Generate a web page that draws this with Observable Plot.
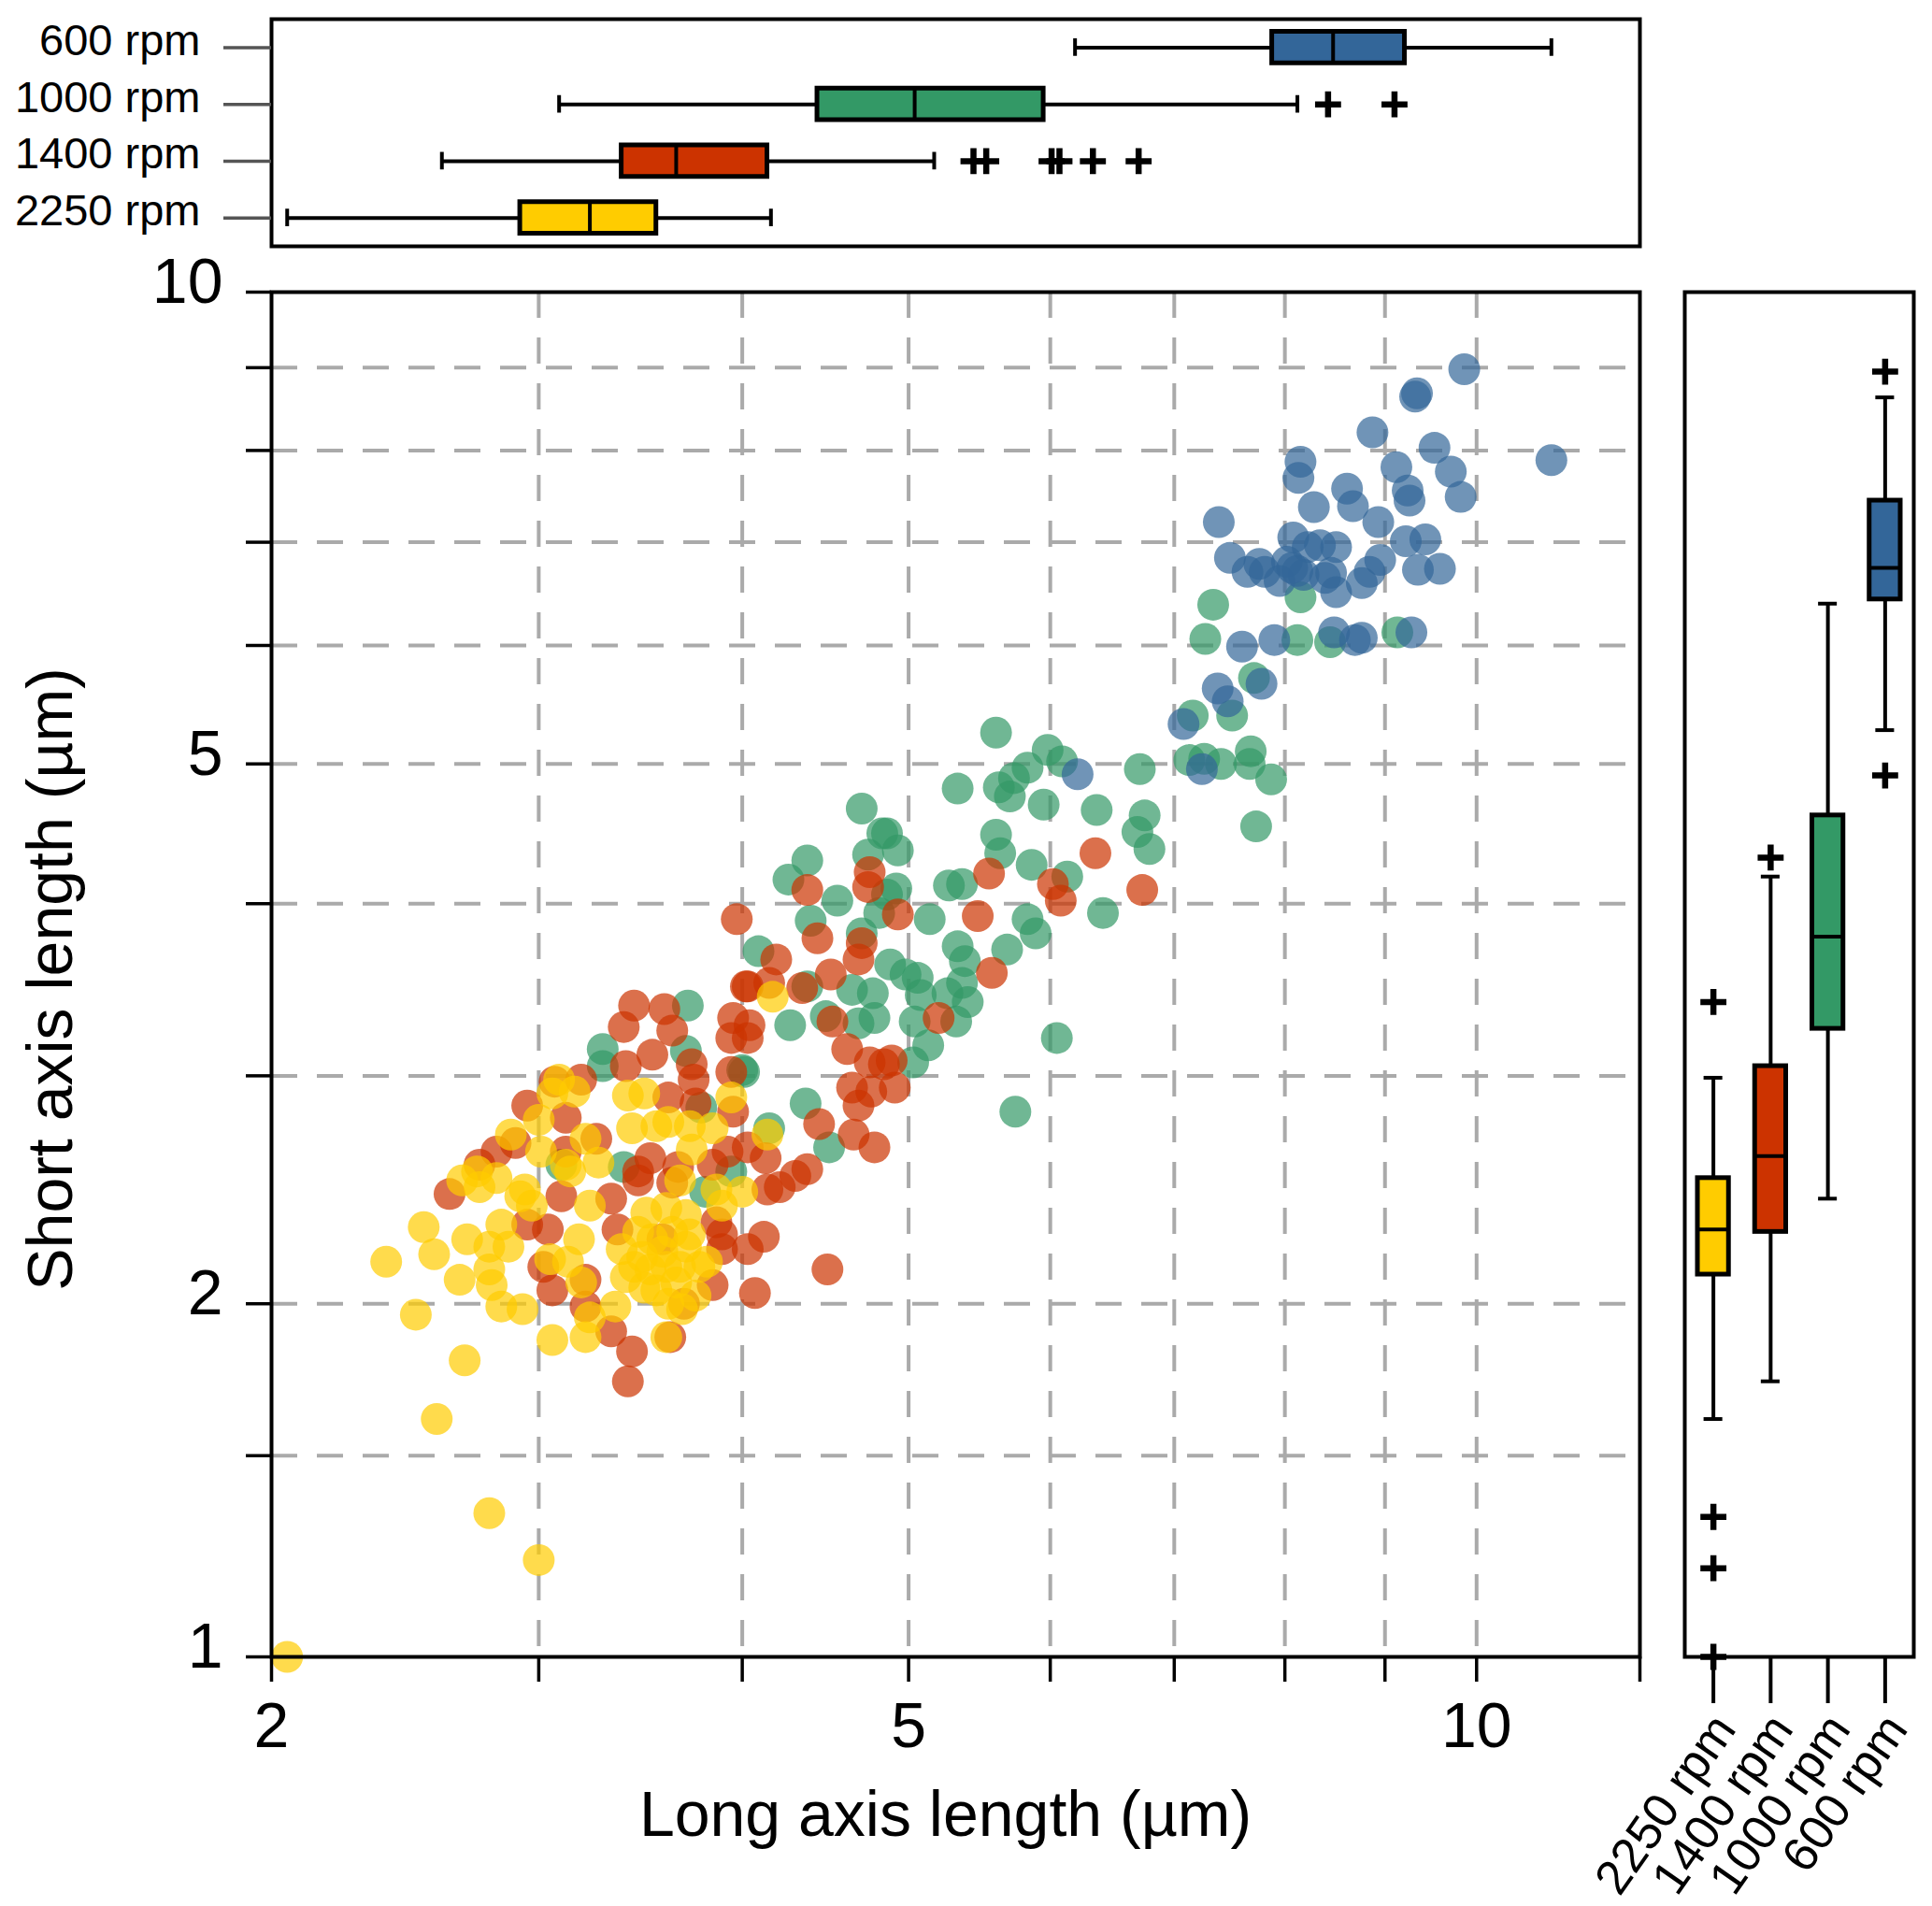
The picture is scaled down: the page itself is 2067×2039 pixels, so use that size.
<!DOCTYPE html>
<html>
<head>
<meta charset="utf-8">
<script src="https://cdn.jsdelivr.net/npm/d3@7"></script>
<script src="https://cdn.jsdelivr.net/npm/@observablehq/plot@0.6"></script>
<style>
  html, body { margin: 0; padding: 0; background: #ffffff; }
  #chart { position: relative; width: 2067px; height: 2039px; background: #ffffff; overflow: hidden; }
  #chart svg { position: absolute; left: 0; top: 0; overflow: visible; background: none !important; max-width: none !important; }
</style>
</head>
<body>
<div id="chart"></div>
<script>
// ---------------- data ----------------
const groups = ["600 rpm", "1000 rpm", "1400 rpm", "2250 rpm"];
const rightOrder = ["2250 rpm", "1400 rpm", "1000 rpm", "600 rpm"];
const colors = ["#336699", "#339966", "#cc3300", "#ffcc00"];

const long600 = [9.86,9.34,9.32,8.87,10.88,9.53,8.15,8.13,9.12,9.71,8.61,9.24,9.26,9.82,8.28,8.67,7.39,8.93,8.08,9.22,9.43,8.34,8.50,8.22,7.49,7.76,7.65,7.81,8.02,8.12,7.95,8.18,8.45,8.39,8.50,8.95,8.84,8.76,9.35,9.59,8.48,8.69,8.76,9.28,7.60,7.90,7.78,7.38,7.47,7.08,7.24,6.21,8.07];
const short600 = [8.98,8.68,8.64,8.21,7.89,8.03,7.87,7.69,7.81,7.76,7.57,7.55,7.44,7.48,7.37,7.38,7.21,7.21,7.05,7.01,7.03,6.97,6.95,6.95,6.84,6.78,6.70,6.70,6.80,6.71,6.61,6.67,6.69,6.64,6.50,6.82,6.70,6.59,6.72,6.73,6.12,6.05,6.07,6.12,5.99,6.05,5.66,5.62,5.51,5.32,4.96,4.92,6.74];

const long1000 = [7.34,8.15,7.27,8.12,8.44,9.13,7.71,7.16,7.51,7.13,7.26,7.41,7.68,7.67,7.87,7.73,
  5.60,5.98,6.09,5.83,5.73,5.62,5.70,5.33,5.95,6.71,6.36,6.75,6.69,6.79,4.70,4.83,4.86,4.93,4.74,5.60,5.63,5.86,6.13,4.37,4.26,4.55,4.92,4.86,4.81,5.27,5.36,5.14,4.39,5.83,5.89,6.41,5.68,5.33,5.38,4.70,4.09,4.88,4.98,5.06,5.36,5.26,5.08,5.40,4.64,4.77,4.37,4.78,4.68,4.27,4.48,5.04,5.32,5.13,5.03,6.05,5.74,4.36,4.01,4.50,4.15,
  3.71,3.29,3.29,3.70,4.00,3.78,3.39,3.10,3.94,3.80];
const short1000 = [6.38,6.45,6.06,6.05,6.03,6.12,5.71,5.39,5.39,5.03,5.04,5.00,5.10,5.00,4.88,4.53,
  5.25,5.11,5.02,4.97,4.89,4.82,4.75,4.81,4.69,4.96,4.65,4.61,4.49,4.37,4.66,4.48,4.48,4.36,4.33,4.47,4.34,4.26,4.18,4.29,4.16,4.02,4.10,4.06,3.94,4.12,4.13,3.90,3.89,3.90,3.81,3.94,3.71,3.73,3.64,3.81,3.70,3.62,3.56,3.54,3.51,3.45,3.44,3.40,3.47,3.45,3.49,3.31,3.28,3.27,3.32,3.29,3.29,3.16,3.07,3.20,2.82,2.86,3.02,2.65,2.74,
  3.38,3.14,3.05,3.13,3.03,2.84,2.56,2.57,2.54,2.45];

const long1400 = [6.35,6.73,5.55,6.02,6.08,5.47,5.57,4.75,4.74,4.37,4.93,3.97,4.43,4.70,4.68,4.19,4.51,4.34,4.02,4.15,5.20,4.52,4.04,4.61,4.75,4.84,4.89,4.64,4.76,4.91,4.68,4.44,4.65,4.78,
  4.13,4.37,4.30,4.21,4.14,4.12,4.49,
  2.63,2.75,2.82,2.90,2.95,3.07,3.19,3.12,3.26,3.12,3.10,3.04,2.95,3.02,3.06,3.21,3.21,3.33,3.43,3.41,3.62,3.69,3.44,3.59,3.39,3.63,3.53,3.40,3.73,3.74,3.61,3.75,3.95,3.94,3.94,4.03,4.03,3.95,3.92,3.84,3.46,3.46,3.52,3.66,3.63,3.33,3.36,3.58,3.89,3.89,4.03,3.84,4.07,4.03,3.86];
const short1400 = [4.34,4.09,4.20,4.13,4.02,3.92,3.57,4.21,4.11,4.09,3.93,3.90,3.78,3.75,3.65,3.65,3.56,3.48,3.49,3.51,3.31,3.29,3.27,3.14,3.07,3.06,3.08,2.94,2.92,2.94,2.85,2.76,2.71,2.65,
  2.60,2.55,2.52,2.47,2.46,2.26,2.13,
  2.44,2.57,2.63,2.67,2.85,2.97,2.98,2.79,2.69,2.63,2.43,2.29,2.31,2.14,2.05,2.09,1.99,1.90,1.83,1.73,1.88,2.00,3.38,3.36,3.26,3.24,3.11,3.05,3.06,2.98,2.89,2.86,3.31,3.20,3.02,3.49,3.20,2.82,2.63,2.57,2.54,2.50,2.60,2.56,2.49,2.42,2.29,2.25,2.27,2.21,2.21,2.07,2.04,2.65,2.32];

const long2250 = [2.39,2.53,2.57,2.67,2.70,2.50,2.69,2.79,2.80,2.79,2.84,2.87,2.84,2.93,3.06,3.21,3.23,2.68,2.75,2.74,2.82,2.88,2.92,2.94,2.97,3.00,3.09,3.06,3.16,3.01,3.12,3.14,3.21,3.27,3.23,3.18,3.05,3.13,3.19,3.41,3.49,3.43,3.55,3.61,3.72,3.84,3.73,3.94,3.67,3.50,3.60,3.70,3.46,3.38,3.72,3.44,3.52,3.60,3.67,3.77,3.49,3.61,3.35,3.60,3.89,4.00,3.86,3.81,4.17,4.14,
  2.58,2.79,3.00,2.05,
  3.55,3.65,3.58,3.70,3.48,3.63,3.75,3.53,3.68,3.40];
const short2250 = [2.16,2.30,2.19,2.09,2.25,1.96,1.80,2.13,2.07,2.22,2.31,2.22,1.99,1.98,1.87,1.88,1.95,2.50,2.47,2.54,2.51,2.71,2.43,2.46,2.39,2.78,2.98,2.91,2.92,2.63,2.57,2.54,2.69,2.58,2.39,2.25,2.17,2.16,2.08,2.90,2.91,2.74,2.75,2.77,2.75,2.74,2.64,2.89,2.50,2.36,2.38,2.35,2.28,2.21,2.27,2.14,2.13,2.14,2.14,2.14,2.06,2.00,1.99,1.88,2.39,2.45,2.46,2.16,3.43,2.71,
  1.61,1.34,1.22,1.00,
  2.05,2.08,2.20,2.22,2.18,2.28,2.03,2.25,1.98,2.10];

// box statistics, long axis (top panel), order = groups
const topLo  = [6.19, 3.09, 2.60, 2.05];
const topQ1  = [7.88, 4.43, 3.38, 2.92];
const topMed = [8.47, 5.04, 3.65, 3.23];
const topQ3  = [9.21, 5.95, 4.14, 3.55];
const topHi  = [10.88, 8.12, 5.17, 4.16];
const topOutGroup = ["1000 rpm","1000 rpm","1400 rpm","1400 rpm","1400 rpm","1400 rpm","1400 rpm","1400 rpm"];
const topOutValue = [8.42, 9.10, 5.44, 5.53, 6.01, 6.07, 6.33, 6.70];

// box statistics, short axis (right panel), order = groups
const rightLo  = [5.27, 2.42, 1.73, 1.61];
const rightQ1  = [6.43, 3.25, 2.28, 2.11];
const rightMed = [6.74, 3.79, 2.61, 2.29];
const rightQ3  = [7.44, 4.61, 3.05, 2.51];
const rightHi  = [8.63, 6.39, 4.18, 2.99];
const rightOutGroup = ["600 rpm","600 rpm","1400 rpm","2250 rpm","2250 rpm","2250 rpm","2250 rpm"];
const rightOutValue = [8.95, 4.91, 4.31, 3.40, 1.33, 1.20, 1.00];

// axes
const xGrid = [3,4,5,6,7,8,9,10];
const yGrid = [1.5,2,3,4,5,6,7,8,9];
const xTicks = [2,3,4,5,6,7,8,9,10,12];
const xTickLabels = [2,5,10];
const yTicks = [1,1.5,2,3,4,5,6,7,8,9,10];
const yTickLabels = [1,2,5,10];
const xTitle = "Long axis length (µm)";
const yTitle = "Short axis length (µm)";

// ---------------- tables ----------------
const series = {
  "600 rpm": [long600, short600],
  "1000 rpm": [long1000, short1000],
  "1400 rpm": [long1400, short1400],
  "2250 rpm": [long2250, short2250]
};
const drawOrder = ["1000 rpm", "600 rpm", "1400 rpm", "2250 rpm"];
const points = drawOrder.flatMap(g => series[g][0].map((v, i) => ({group: g, long: v, short: series[g][1][i]})));
const topStats = groups.map((g, i) => ({group: g, lo: topLo[i], q1: topQ1[i], med: topMed[i], q3: topQ3[i], hi: topHi[i]}));
const topOut = topOutGroup.map((g, i) => ({group: g, value: topOutValue[i]}));
const rightStats = groups.map((g, i) => ({group: g, lo: rightLo[i], q1: rightQ1[i], med: rightMed[i], q3: rightQ3[i], hi: rightHi[i]}));
const rightOut = rightOutGroup.map((g, i) => ({group: g, value: rightOutValue[i]}));

// ---------------- layout ----------------
const W = 2067, H = 2039;
const FONT = "'Liberation Sans', Arial, Helvetica, sans-serif";
const style = {fontFamily: FONT, background: "none", overflow: "visible"};
const L = 290, R = 1754, T = 312, B = 1772;
const xScale = {type: "pow", exponent: 0.205, domain: [2, 12], axis: null};
const yScale = {type: "pow", exponent: 0.18, domain: [1, 10], axis: null};
const colorScale = {domain: groups, range: colors};
const gridStyle = {stroke: "#aaaaaa", strokeOpacity: 1, strokeWidth: 4, strokeDasharray: "28,21"};
const blank = () => "";
const LW = 4;       // whisker / tick line width
const BOXW = 5;     // box outline width
const PLUS = {symbol: "plus", r: 9, stroke: "black", strokeWidth: 6.5};

const topPlot = Plot.plot({
  width: W, height: H, style,
  marginLeft: L, marginRight: W - R, marginTop: 20, marginBottom: H - 263,
  x: xScale,
  y: {type: "band", domain: groups, padding: 0, round: false, axis: null},
  color: colorScale,
  marks: [
    Plot.ruleY(topStats, {y: "group", x1: "lo", x2: "hi", stroke: "black", strokeWidth: LW}),
    Plot.tickX(topStats, {x: "lo", y: "group", insetTop: 21, insetBottom: 21, stroke: "black", strokeWidth: LW}),
    Plot.tickX(topStats, {x: "hi", y: "group", insetTop: 21, insetBottom: 21, stroke: "black", strokeWidth: LW}),
    Plot.barX(topStats, {x1: "q1", x2: "q3", y: "group", fill: "group", stroke: "black", strokeWidth: BOXW, insetTop: 13.5, insetBottom: 13.5}),
    Plot.tickX(topStats, {x: "med", y: "group", insetTop: 13.5, insetBottom: 13.5, stroke: "black", strokeWidth: LW}),
    Plot.dot(topOut, {x: "value", y: "group", ...PLUS}),
    Plot.frame({stroke: "black", strokeWidth: 4}),
    Plot.axisY({tickSize: 51, stroke: "#555555", strokeWidth: 3.5, tickFormat: blank, label: null}),
    Plot.axisY({tickSize: 0, tickPadding: 76, fontSize: 47, dy: -7, label: null})
  ]
});

const mainPlot = Plot.plot({
  width: W, height: H, style,
  marginLeft: L, marginRight: W - R, marginTop: T, marginBottom: H - B,
  x: xScale,
  y: yScale,
  color: colorScale,
  marks: [
    Plot.ruleX(xGrid, gridStyle),
    Plot.ruleY(yGrid, gridStyle),
    Plot.dot(points, {x: "long", y: "short", fill: "group", r: 17, fillOpacity: 0.7}),
    Plot.frame({stroke: "black", strokeWidth: 4}),
    Plot.axisX({ticks: xTicks, tickSize: 27, stroke: "black", strokeWidth: 3.5, tickFormat: blank, label: null}),
    Plot.axisX({ticks: xTickLabels, tickSize: 0, tickPadding: 48, fontSize: 68, label: null, tickFormat: d => String(d)}),
    Plot.axisY({ticks: yTicks, tickSize: 27, stroke: "black", strokeWidth: 3.5, tickFormat: blank, label: null}),
    Plot.axisY({ticks: yTickLabels, tickSize: 0, tickPadding: 52, fontSize: 68, dy: -10, label: null, tickFormat: d => String(d)}),
    Plot.text([xTitle], {frameAnchor: "bottom", textAnchor: "middle", dx: -11, dy: 191, lineAnchor: "bottom", fontSize: 68, fill: "black"}),
    Plot.text([yTitle], {frameAnchor: "left", textAnchor: "middle", rotate: -90, dx: -214, dy: 5, lineAnchor: "bottom", fontSize: 68, fill: "black"})
  ]
});

const rightPlot = Plot.plot({
  width: W, height: H, style,
  marginLeft: 1802, marginRight: W - 2047, marginTop: T, marginBottom: H - B,
  x: {type: "band", domain: rightOrder, padding: 0, round: false, axis: null},
  y: yScale,
  color: colorScale,
  marks: [
    Plot.ruleX(rightStats, {x: "group", y1: "lo", y2: "hi", stroke: "black", strokeWidth: LW}),
    Plot.tickY(rightStats, {y: "lo", x: "group", insetLeft: 20.6, insetRight: 20.6, stroke: "black", strokeWidth: LW}),
    Plot.tickY(rightStats, {y: "hi", x: "group", insetLeft: 20.6, insetRight: 20.6, stroke: "black", strokeWidth: LW}),
    Plot.barY(rightStats, {x: "group", y1: "q1", y2: "q3", fill: "group", stroke: "black", strokeWidth: BOXW, insetLeft: 14, insetRight: 14}),
    Plot.tickY(rightStats, {y: "med", x: "group", insetLeft: 14, insetRight: 14, stroke: "black", strokeWidth: LW}),
    Plot.dot(rightOut, {x: "group", y: "value", ...PLUS}),
    Plot.frame({stroke: "black", strokeWidth: 4}),
    Plot.axisX({tickSize: 50, stroke: "black", strokeWidth: 4, tickFormat: blank, label: null}),
    Plot.axisX({tickSize: 0, tickPadding: 68, tickRotate: -55, fontSize: 52, dx: 12, label: null})
  ]
});

const chart = document.getElementById("chart");
chart.append(mainPlot, rightPlot, topPlot);
</script>
</body>
</html>
